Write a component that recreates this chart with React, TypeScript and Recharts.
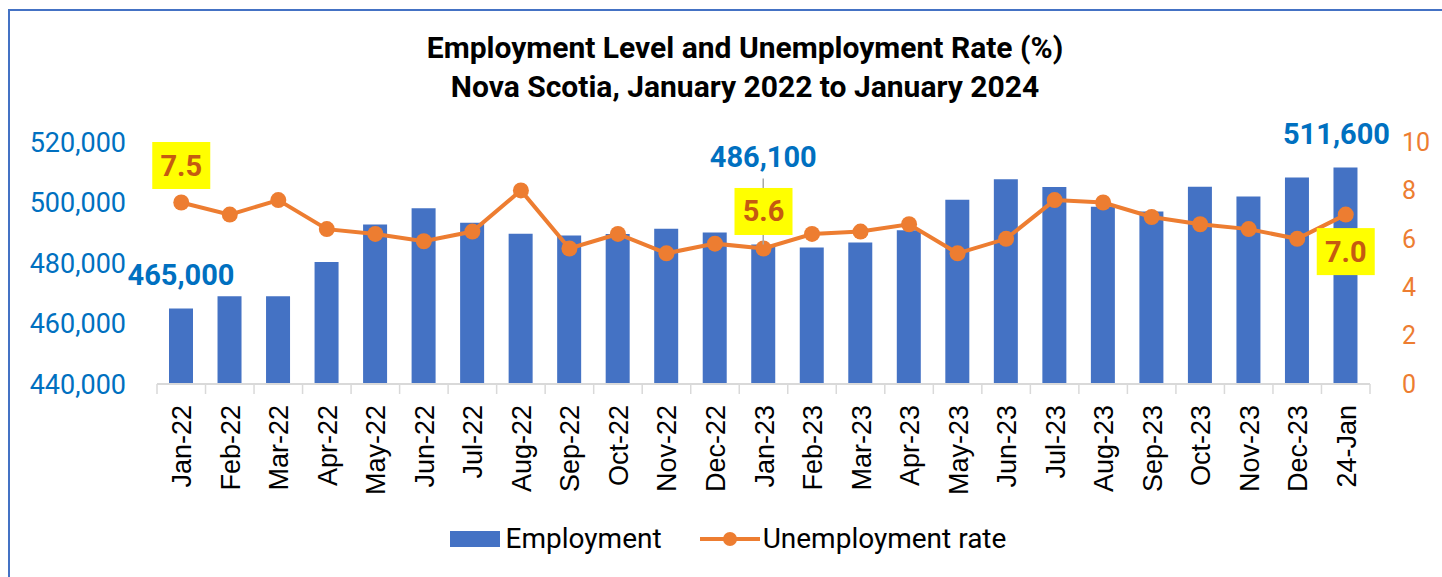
import React from 'react';
import { ComposedChart, Bar, Line, XAxis, YAxis, Legend } from 'recharts';

// Nova Scotia LFS, monthly, Jan 2022 - Jan 2024
const months = [
  'Jan-22', 'Feb-22', 'Mar-22', 'Apr-22', 'May-22', 'Jun-22', 'Jul-22', 'Aug-22', 'Sep-22',
  'Oct-22', 'Nov-22', 'Dec-22', 'Jan-23', 'Feb-23', 'Mar-23', 'Apr-23', 'May-23', 'Jun-23',
  'Jul-23', 'Aug-23', 'Sep-23', 'Oct-23', 'Nov-23', 'Dec-23', '24-Jan',
];
const employment = [
  465000, 469000, 469000, 480300, 492700, 498100, 493300, 489700, 489100,
  489600, 491300, 490100, 486100, 485100, 486800, 490800, 500900, 507700,
  505100, 498600, 497000, 505200, 502000, 508300, 511600,
];
const unemploymentRate = [
  7.5, 7.0, 7.6, 6.4, 6.2, 5.9, 6.3, 8.0, 5.6,
  6.2, 5.4, 5.8, 5.6, 6.2, 6.3, 6.6, 5.4, 6.0,
  7.6, 7.5, 6.9, 6.6, 6.4, 6.0, 7.0,
];
const employmentTicks = [440000, 460000, 480000, 500000, 520000];
const rateTicks = [0, 2, 4, 6, 8, 10];
const labelledMonths = [0, 12, 24];

const data = months.map((month, i) => ({
  month,
  employment: employment[i],
  rate: unemploymentRate[i],
}));

const W = 1442;
const H = 577;
const LEFT_AXIS_W = 157;
const RIGHT_AXIS_W = 72;
const TOP = 142;
const AXIS_Y = 384;
const band = (W - LEFT_AXIS_W - RIGHT_AXIS_W) / months.length;

const BLUE = '#4472C4';
const ORANGE = '#ED7D31';
const condensed = 'Roboto, "Noto Sans", sans-serif';

const fmt = (v: number) => v.toLocaleString('en-US');

const renderEmploymentLabel = (props: any) => {
  const { x, y, width, value, index } = props;
  if (!labelledMonths.includes(index)) return null;
  const mid = x + width / 2;
  const lift = index === 12 ? 88 : 33;
  const shift = index === months.length - 1 ? -9 : 0;
  return (
    <g key={`emp-${index}`}>
      {index === 12 && (
        <line x1={mid} x2={mid} y1={y - 66} y2={y} stroke="#A6A6A6" strokeWidth={1.5} />
      )}
      <text
        x={mid + shift}
        y={y - lift}
        textAnchor="middle"
        dominantBaseline="central"
        fill="#0070C0"
        fontFamily={condensed}
        fontWeight={700}
        fontSize={29}
      >
        {fmt(value)}
      </text>
    </g>
  );
};

const renderRateLabel = (props: any) => {
  const { x, y, value, index } = props;
  if (!labelledMonths.includes(index)) return null;
  const cy = index === months.length - 1 ? y + 37 : y - 37;
  return (
    <g key={`rate-${index}`}>
      <rect x={x - 29} y={cy - 23.5} width={58} height={47} fill="#FFFF00" />
      <text
        x={x}
        y={cy}
        textAnchor="middle"
        dominantBaseline="central"
        fill="#C55A11"
        fontFamily={condensed}
        fontWeight={700}
        fontSize={29}
      >
        {Number(value).toFixed(1)}
      </text>
    </g>
  );
};

const MonthTick = (props: any) => {
  const { x, y, payload, index } = props;
  return (
    <g>
      <line x1={x - band / 2} x2={x - band / 2} y1={AXIS_Y} y2={AXIS_Y + 10} stroke="#D9D9D9" strokeWidth={1.5} />
      {index === months.length - 1 && (
        <line x1={x + band / 2} x2={x + band / 2} y1={AXIS_Y} y2={AXIS_Y + 10} stroke="#D9D9D9" strokeWidth={1.5} />
      )}
      <text
        transform={`translate(${x + 10},${y + 21}) rotate(-90)`}
        textAnchor="end"
        fill="#000"
        fontFamily='"Liberation Sans", Arial, sans-serif'
        fontSize={27}
      >
        {payload.value}
      </text>
    </g>
  );
};

const renderLegend = () => (
  <div
    style={{
      display: 'flex',
      alignItems: 'center',
      justifyContent: 'center',
      paddingLeft: 14,
      fontFamily: condensed,
      fontSize: 28,
      color: '#000',
    }}
  >
    <span style={{ display: 'inline-block', width: 50, height: 16, background: BLUE, marginRight: 6 }} />
    <span>Employment</span>
    <svg width={60} height={20} style={{ marginLeft: 38, marginRight: 3 }}>
      <line x1={0} x2={60} y1={10} y2={10} stroke={ORANGE} strokeWidth={4} />
      <circle cx={30} cy={10} r={7} fill={ORANGE} />
    </svg>
    <span>Unemployment rate</span>
  </div>
);

export default function App() {
  return (
    <div style={{ position: 'absolute', left: 0, top: 0, width: W, height: H, overflow: 'hidden', background: '#fff' }}>
      <div
        style={{
          position: 'absolute',
          left: 8,
          top: 9,
          width: W + 40,
          height: H + 40,
          border: `2px solid ${BLUE}`,
        }}
      />
      <div
        style={{
          position: 'absolute',
          left: 0,
          top: 28,
          width: 1490,
          textAlign: 'center',
          fontFamily: condensed,
          fontWeight: 700,
          fontSize: 30,
          lineHeight: '39px',
          color: '#000',
        }}
      >
        <div>Employment Level and Unemployment Rate (%)</div>
        <div>Nova Scotia, January 2022 to January 2024</div>
      </div>
      <div style={{ position: 'absolute', left: 0, top: 0 }}>
        <ComposedChart
          width={W}
          height={H}
          data={data}
          margin={{ top: TOP, right: 0, bottom: 73, left: 0 }}
          barCategoryGap="50%"
        >
          <XAxis
            dataKey="month"
            interval={0}
            height={120}
            tickLine={false}
            tickSize={0}
            tickMargin={0}
            axisLine={{ stroke: '#D9D9D9', strokeWidth: 2 }}
            tick={<MonthTick />}
          />
          <YAxis
            yAxisId="emp"
            width={LEFT_AXIS_W}
            domain={[440000, 520000]}
            ticks={employmentTicks}
            tickFormatter={fmt}
            axisLine={false}
            tickLine={false}
            tickSize={0}
            tickMargin={31}
            tick={{ fill: '#0070C0', fontFamily: condensed, fontSize: 27 }}
          />
          <YAxis
            yAxisId="rate"
            orientation="right"
            width={RIGHT_AXIS_W}
            domain={[0, 10]}
            ticks={rateTicks}
            axisLine={false}
            tickLine={false}
            tickSize={0}
            tickMargin={32}
            tick={{ fill: ORANGE, fontFamily: condensed, fontSize: 25, textAnchor: 'start' }}
          />
          <Bar
            yAxisId="emp"
            dataKey="employment"
            name="Employment"
            fill={BLUE}
            barSize={24}
            isAnimationActive={false}
            label={renderEmploymentLabel}
          />
          <Line
            yAxisId="rate"
            dataKey="rate"
            name="Unemployment rate"
            stroke={ORANGE}
            strokeWidth={4}
            dot={{ r: 8, fill: ORANGE, stroke: ORANGE, strokeWidth: 0 }}
            activeDot={false}
            isAnimationActive={false}
            label={renderRateLabel}
          />
          <Legend
            layout="horizontal"
            verticalAlign="middle"
            align="center"
            content={renderLegend}
            wrapperStyle={{ top: 522, left: 0, width: W }}
          />
        </ComposedChart>
      </div>
    </div>
  );
}
